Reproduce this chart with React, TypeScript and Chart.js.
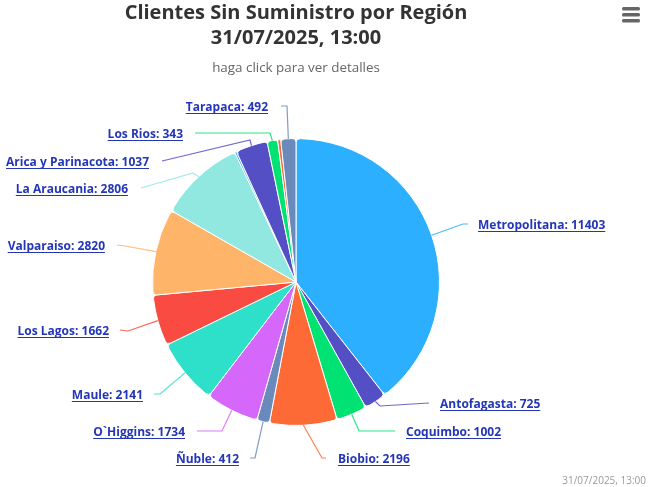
import React, { useEffect, useRef } from "react";
import { Chart, registerables } from "chart.js";

Chart.register(...registerables);

const regions = ["Metropolitana", "Antofagasta", "Coquimbo", "Biobio", "Ñuble", "O`Higgins", "Maule", "Los Lagos", "Valparaiso", "La Araucania", "", "Arica y Parinacota", "Los Rios", "", "Tarapaca"];
const customers = [11403, 725, 1002, 2196, 412, 1734, 2141, 1662, 2820, 2806, 60, 1037, 343, 100, 492];
const sliceColors = ["#2caffe", "#544fc5", "#00e272", "#fe6a35", "#6b8abc", "#d568fb", "#2ee0ca", "#fa4b42", "#feb56a", "#91e8e1", "#2caffe", "#544fc5", "#00e272", "#fe6a35", "#6b8abc"];
const titleLines = ["Clientes Sin Suministro por Región", "31/07/2025, 13:00"];
const subtitleText = "haga click para ver detalles";
const creditText = "31/07/2025, 13:00";

// Label layout: side, text edge x, text mid y, connector end x, knee x, knee y
type Place = [number, number, number, number, number, number] | null;
const labelPlaces: Place[] = [
  [1, 478, 224, 468, 463, 224],
  [1, 440, 403, 429, 380, 406],
  [1, 406, 431, 395, 359, 431],
  [1, 338, 458, 326, 322, 458],
  [-1, 239, 458, 250, 255, 458],
  [-1, 185, 431, 197, 222, 431],
  [-1, 143, 394, 154, 160, 394],
  [-1, 109, 330, 120, 128, 331],
  [-1, 105, 245, 117, 125, 246],
  [-1, 128, 188, 141, 193, 173],
  null,
  [-1, 149, 161, 162, 250, 140],
  [-1, 183, 133, 195, 270, 133],
  null,
  [-1, 268, 106, 281, 287, 106],
];

const FONT = '"Open Sans", "Noto Sans", sans-serif';

const sliceLabels = {
  id: "sliceLabels",
  afterDatasetsDraw(chart: any) {
    const { ctx } = chart;
    const arcs = chart.getDatasetMeta(0).data;
    ctx.save();
    arcs.forEach((arc: any, i: number) => {
      const place = labelPlaces[i];
      if (!place) return;
      const [side, textX, textY, endX, kneeX, kneeY] = place;
      const mid = (arc.startAngle + arc.endAngle) / 2;
      const px = arc.x + Math.cos(mid) * arc.outerRadius;
      const py = arc.y + Math.sin(mid) * arc.outerRadius;
      ctx.beginPath();
      ctx.moveTo(endX, textY);
      ctx.lineTo(kneeX, kneeY);
      ctx.lineTo(px, py);
      ctx.strokeStyle = sliceColors[i];
      ctx.globalAlpha = 0.85;
      ctx.lineWidth = 1.2;
      ctx.stroke();
      ctx.globalAlpha = 1;

      const text = `${regions[i]}: ${customers[i]}`;
      ctx.font = `bold 12px ${FONT}`;
      ctx.fillStyle = "#2436b8";
      ctx.textBaseline = "middle";
      ctx.textAlign = side > 0 ? "left" : "right";
      ctx.fillText(text, textX, textY + 1.5);
      const w = ctx.measureText(text).width;
      const x0 = side > 0 ? textX : textX - w;
      ctx.fillRect(x0, textY + 7, w, 1);
    });
    ctx.restore();
  },
};

const chrome = {
  id: "chrome",
  afterDraw(chart: any) {
    const { ctx, width, height } = chart;
    ctx.save();
    ctx.fillStyle = "#666666";
    [7, 13, 19].forEach((y) => {
      ctx.beginPath();
      ctx.roundRect(622, y, 18, 3.4, 1.5);
      ctx.fill();
    });
    ctx.font = `10px ${FONT}`;
    ctx.fillStyle = "#999999";
    ctx.textAlign = "right";
    ctx.textBaseline = "alphabetic";
    ctx.fillText(creditText, width - 4, height - 3);
    ctx.restore();
  },
};

export default function App() {
  const ref = useRef<HTMLCanvasElement>(null);
  useEffect(() => {
    const chart = new Chart(ref.current as HTMLCanvasElement, {
      type: "pie",
      data: {
        labels: regions,
        datasets: [
          {
            data: customers,
            backgroundColor: sliceColors,
            borderColor: "#ffffff",
            borderWidth: 1,
            borderRadius: 4,
            hoverOffset: 0,
          },
        ],
      },
      options: {
        animation: false,
        responsive: false,
        layout: { padding: { top: 0, left: 0, right: 58, bottom: 61 } },
        plugins: {
          legend: { display: false },
          tooltip: { enabled: false },
          title: {
            display: true,
            text: titleLines,
            color: "#333333",
            font: { family: FONT, size: 20, weight: "bold", lineHeight: 1.25 },
            padding: { top: 1, bottom: 9 },
          },
          subtitle: {
            display: true,
            text: subtitleText,
            color: "#666666",
            font: { family: FONT, size: 13.4, weight: "normal", lineHeight: 1.2 },
            padding: { top: 0, bottom: 62 },
          },
        },
      },
      plugins: [sliceLabels, chrome],
    } as any);
    return () => chart.destroy();
  }, []);
  return (
    <div style={{ position: "fixed", left: 0, top: 0, background: "#fff" }}>
      <canvas ref={ref} width={650} height={487} style={{ display: "block" }} />
    </div>
  );
}
